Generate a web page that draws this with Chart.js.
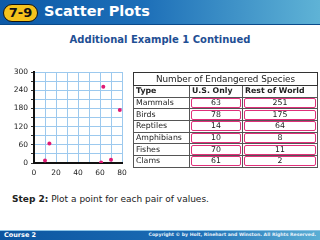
<!DOCTYPE html>
<html>
<head>
<meta charset="utf-8">
<script src="https://cdn.jsdelivr.net/npm/chart.js@4"></script>
<style>
  body { margin: 0; width: 320px; height: 240px; overflow: hidden; background: #fff; position: relative; font-family: "DejaVu Sans", Verdana, sans-serif; }
  #banner { position: absolute; left: 0; top: 0; width: 320px; height: 24px; background: linear-gradient(90deg, #0d5aa7 0%, #1d6fb8 45%, #5fb3d6 100%); border-bottom: 1px solid #0a4a8a; }
  #badge { position: absolute; left: 3px; top: 4px; width: 35px; height: 18px; border-radius: 10px; background: #f4c21c; border: 1.5px solid #111; box-sizing: border-box; font: bold 13px "DejaVu Sans"; line-height: 15px; text-align: center; color: #111; }
  #title { position: absolute; left: 44px; top: 3px; color: #fff; font: bold 14.5px "DejaVu Sans"; }
  #sub { position: absolute; left: 0; width: 320px; top: 34px; text-align: center; color: #1f4f94; font: bold 10px "DejaVu Sans"; }
  #chartbox { position: absolute; left: 0; top: 60px; width: 135px; height: 125px; }
  #tbl { position: absolute; left: 133px; top: 72px; width: 184px; border-collapse: collapse; font-size: 7.8px; color: #222; table-layout: fixed; }
  #tbl td, #tbl th { border: 1px solid #555; padding: 0 2px; height: 10.7px; line-height: 10px; }
  #tbl .cap { text-align: center; font-weight: normal; font-size: 8.8px; height: 12px; border: 1.5px solid #333; }
  #tbl th { text-align: left; font-weight: bold; }
  #tbl td.num { text-align: center; }
  #tbl td.num span { display: block; border: 1.5px solid #e0307a; border-radius: 2px; margin: 0 -1px; line-height: 8px; }
  #step { position: absolute; left: 12px; top: 194px; font-size: 9px; color: #222; }
  #footer { position: absolute; left: 0; top: 230px; width: 320px; height: 10px; background: linear-gradient(90deg, #0b55a0 0%, #1c6db5 60%, #5aaed4 100%); border-top: 1px solid #8cc4e6; }
  #course { position: absolute; left: 4px; top: 230px; color: #fff; font: bold 6.5px "DejaVu Sans"; line-height: 10px; }
  #copy { position: absolute; right: 4px; top: 230px; color: #e8f2fa; font: bold 4.6px "DejaVu Sans"; line-height: 10px; }
</style>
</head>
<body>
<div id="banner"></div>
<div id="badge">7-9</div>
<div id="title">Scatter Plots</div>
<div id="sub">Additional Example 1 Continued</div>
<div id="chartbox"><canvas id="c"></canvas></div>
<table id="tbl"><colgroup><col style="width:56px"><col style="width:53px"><col style="width:75px"></colgroup><tbody id="tb"></tbody></table>
<div id="step"><b>Step 2:</b> Plot a point for each pair of values.</div>
<div id="footer"></div>
<div id="course">Course 2</div>
<div id="copy">Copyright © by Holt, Rinehart and Winston. All Rights Reserved.</div>
<script>
const types = ['Mammals', 'Birds', 'Reptiles', 'Amphibians', 'Fishes', 'Clams'];
const usOnly = [63, 78, 14, 10, 70, 61];
const restOfWorld = [251, 175, 64, 8, 11, 2];
const xTicks = [0, 20, 40, 60, 80];
const yTicks = [0, 60, 120, 180, 240, 300];

// table
let html = '<tr><th class="cap" colspan="3">Number of Endangered Species</th></tr>';
html += '<tr><th>Type</th><th>U.S. Only</th><th>Rest of World</th></tr>';
types.forEach(function(t, i) {
  html += '<tr><td>' + t + '</td><td class="num"><span>' + usOnly[i] + '</span></td><td class="num"><span>' + restOfWorld[i] + '</span></td></tr>';
});
document.getElementById('tb').innerHTML = html;

const points = usOnly.map(function(x, i) { return { x: x, y: restOfWorld[i] }; });

new Chart(document.getElementById('c'), {
  type: 'scatter',
  data: {
    datasets: [{
      data: points,
      backgroundColor: '#e01a74',
      borderColor: '#e01a74',
      pointRadius: 2,
      pointBorderWidth: 0
    }]
  },
  options: {
    responsive: true,
    maintainAspectRatio: false,
    animation: false,
    layout: { padding: { top: 12, right: 13, left: 0, bottom: 0 } },
    plugins: { legend: { display: false }, tooltip: { enabled: false } },
    scales: {
      x: {
        min: 0, max: 80,
        afterFit: function(s) { s.height = 22; },
        ticks: {
          stepSize: 10, autoSkip: false, maxRotation: 0, padding: 6,
          color: '#222', font: { family: 'DejaVu Sans', size: 7.5 },
          callback: function(v) { return xTicks.includes(v) ? v : ''; }
        },
        grid: { color: '#9cc9ee', lineWidth: 1, drawTicks: false },
        border: { color: '#111', width: 2 }
      },
      y: {
        min: 0, max: 300,
        afterFit: function(s) { s.width = 34; },
        ticks: {
          stepSize: 30, autoSkip: false, padding: 3,
          color: '#222', font: { family: 'DejaVu Sans', size: 7.5 },
          callback: function(v) { return yTicks.includes(v) ? v : ''; }
        },
        grid: { color: '#9cc9ee', lineWidth: 1, tickLength: 3, tickColor: '#333' },
        border: { color: '#111', width: 2 }
      }
    }
  }
});
</script>
</body>
</html>
